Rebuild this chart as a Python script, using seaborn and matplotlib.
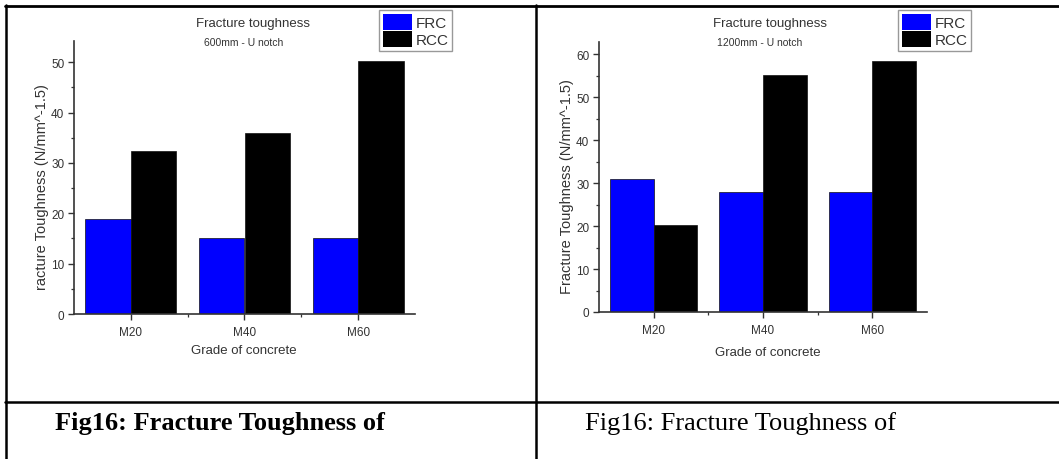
import numpy as np
import pandas as pd
import matplotlib
matplotlib.use('Agg')
import matplotlib.pyplot as plt
from matplotlib.lines import Line2D
from matplotlib.ticker import MultipleLocator, FixedLocator
import seaborn as sns

# ── Data ────────────────────────────────────────────────────────────────
grades = ['M20', 'M40', 'M60']
frc_600 = [18.9, 15.0, 15.0]
rcc_600 = [32.4, 36.0, 50.3]
frc_1200 = [31.1, 28.0, 28.0]
rcc_1200 = [20.2, 55.1, 58.5]

series_names = ['FRC', 'RCC']
palette = {'FRC': '#0000ff', 'RCC': '#000000'}

def long_df(frc, rcc):
    return pd.DataFrame({
        'grade': grades * 2,
        'value': frc + rcc,
        'type': ['FRC'] * len(grades) + ['RCC'] * len(grades),
    })

sns.set_style('ticks')
plt.rcParams['font.family'] = ['Liberation Sans', 'DejaVu Sans']
plt.rcParams['axes.edgecolor'] = '#333333'
plt.rcParams['xtick.color'] = '#333333'
plt.rcParams['ytick.color'] = '#333333'
plt.rcParams['text.color'] = '#333333'

W, H = 1059, 460
fig = plt.figure(figsize=(W / 100, H / 100), dpi=100)
fig.patch.set_facecolor('white')

def px(x0, y0, x1, y1):
    # pixel box -> figure fraction [left, bottom, width, height]
    return [x0 / W, 1 - y1 / H, (x1 - x0) / W, (y1 - y0) / H]

panels = [
    dict(box=(74, 42, 415, 315), frc=frc_600, rcc=rcc_600, ylim=54.2, ystep=10,
         sub='600mm - U notch', ylabel='racture Toughness (N/mm^-1.5)',
         ylab_x=42, title_x=253, sub_x=244, xlab_x=244, xlab_y=351,
         leg=(379, 11)),
    dict(box=(599, 43, 927, 313), frc=frc_1200, rcc=rcc_1200, ylim=62.9, ystep=10,
         sub='1200mm - U notch', ylabel='Fracture Toughness (N/mm^-1.5)',
         ylab_x=567, title_x=770, sub_x=760, xlab_x=768, xlab_y=353,
         leg=(898, 11)),
]

for p in panels:
    ax = fig.add_axes(px(*p['box']))
    df = long_df(p['frc'], p['rcc'])
    sns.barplot(data=df, x='grade', y='value', hue='type', order=grades,
                hue_order=series_names, palette=palette, saturation=1,
                width=0.8, edgecolor='#111111', linewidth=0.5, ax=ax,
                errorbar=None)
    ax.set_xlim(-0.5, 2.5)
    ax.set_ylim(0, p['ylim'])
    ax.yaxis.set_major_locator(MultipleLocator(p['ystep']))
    ax.yaxis.set_minor_locator(MultipleLocator(p['ystep'] / 2))
    ax.xaxis.set_minor_locator(FixedLocator([0.5, 1.5]))
    ax.tick_params(which='major', direction='out', length=4, width=1, labelsize=8.5, pad=3)
    ax.tick_params(which='minor', direction='out', length=2.5, width=0.9)
    ax.tick_params(axis='x', which='major', pad=5)
    sns.despine(ax=ax)
    for s in ['left', 'bottom']:
        ax.spines[s].set_linewidth(1.2)
    ax.set_xlabel('')
    ax.set_ylabel('')
    ax.get_legend().remove()

    fig.text(p['ylab_x'] / W, 1 - 187 / H, p['ylabel'], rotation=90,
             ha='center', va='center', fontsize=10.5)
    fig.text(p['xlab_x'] / W, 1 - p['xlab_y'] / H, 'Grade of concrete',
             ha='center', va='center', fontsize=9.5)
    fig.text(p['title_x'] / W, 1 - 24 / H, 'Fracture toughness',
             ha='center', va='center', fontsize=9.5)
    fig.text(p['sub_x'] / W, 1 - 43 / H, p['sub'],
             ha='center', va='center', fontsize=7.5)

    handles = [plt.Rectangle((0, 0), 1, 1, facecolor=palette[n], edgecolor='none')
               for n in series_names]
    leg = fig.legend(handles, series_names, loc='upper left',
                     bbox_to_anchor=(p['leg'][0] / W, 1 - p['leg'][1] / H),
                     bbox_transform=fig.transFigure, fontsize=11,
                     handlelength=1.9, handleheight=1.25, labelspacing=0.05,
                     handletextpad=0.25, borderpad=0.25, borderaxespad=0,
                     fancybox=False, framealpha=1, edgecolor='#999999')
    leg.get_frame().set_linewidth(1.0)

# ── Document table lines and captions ─────────────────────────────────
def hline(y, x0, x1, lw=2):
    fig.add_artist(Line2D([x0 / W, x1 / W], [1 - y / H, 1 - y / H],
                          color='black', linewidth=lw, transform=fig.transFigure))

def vline(x, y0, y1, lw=2):
    fig.add_artist(Line2D([x / W, x / W], [1 - y0 / H, 1 - y1 / H],
                          color='black', linewidth=lw, transform=fig.transFigure))

hline(6.5, 5, 1059, lw=2)
hline(403, 5, 1059, lw=1.8)
vline(6, 6, 460, lw=1.8)
vline(535.5, 6, 460, lw=1.8)

fig.text(55 / W, 1 - 430 / H, 'Fig16: Fracture Toughness of', ha='left',
         va='baseline', fontsize=19, fontweight='bold', color='black',
         family=['Liberation Serif', 'DejaVu Serif'])
fig.text(585 / W, 1 - 430 / H, 'Fig16: Fracture Toughness of', ha='left',
         va='baseline', fontsize=19, color='black',
         family=['Liberation Serif', 'DejaVu Serif'])

fig.savefig('out.png', dpi=100, facecolor='white')
